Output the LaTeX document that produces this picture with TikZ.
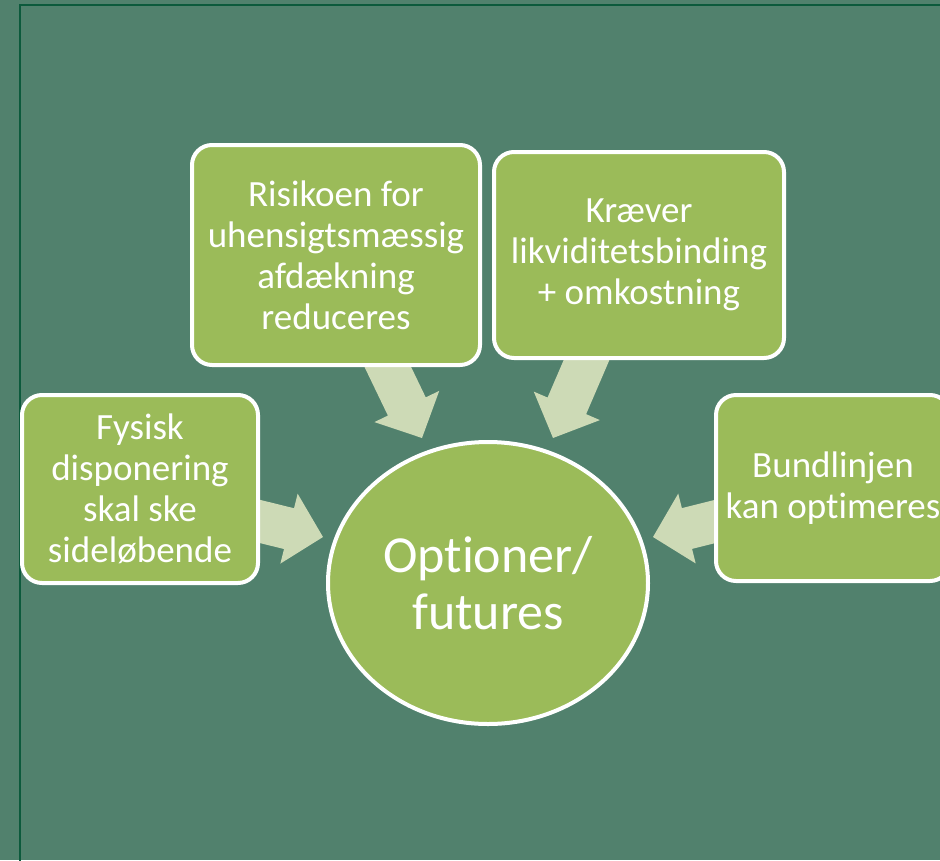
\documentclass[tikz,border=0pt]{standalone}
\usepackage{fontspec}
\setmainfont[Ligatures={NoCommon}, RawFeature={-liga;-clig;-calt}]{Carlito}
\usepackage{tikz}
\usetikzlibrary{shapes.geometric, calc}
\definecolor{bg}{RGB}{81,129,109}
\definecolor{frameline}{RGB}{12,90,60}
\definecolor{leaf}{RGB}{155,187,89}
\definecolor{pale}{RGB}{205,218,182}
\tikzstyle{box} = [rectangle, rounded corners=20pt, draw=white, line width=4pt, fill=leaf, text=white, align=center, font=\fontsize{37}{41}\selectfont, inner sep=0pt]
\tikzstyle{hub} = [ellipse, draw=white, line width=4pt, fill=leaf, text=white, align=center, font=\fontsize{52}{57}\selectfont, minimum width=320pt, minimum height=282pt, inner sep=0pt]
\tikzstyle{blockarrow} = [fill=pale]
% fat arrow from tail #1 to tip #2
\newcommand{\fatarrow}[2]{%
  \coordinate (hb) at ($(#2)!35pt!(#1)$);
  \fill[blockarrow] ($(#1)!21pt!90:(#2)$) -- ($(hb)!21pt!90:(#2)$) -- ($(hb)!36pt!90:(#2)$) -- (#2)
    -- ($(hb)!36pt!-90:(#2)$) -- ($(hb)!21pt!-90:(#2)$) -- ($(#1)!21pt!-90:(#2)$) -- cycle;
}

\begin{document}
\begin{tikzpicture}[x=1pt, y=-1pt]
    \clip (0,0) rectangle (940,860);
    \fill[bg] (0,0) rectangle (940,860);
    \draw[frameline, line width=2pt] (20,870) -- (20,5) -- (950,5);

    \coordinate (t1) at (383,357); \coordinate (h1) at (422,438);
    \coordinate (t2) at (590,352); \coordinate (h2) at (553,438);
    \coordinate (t3) at (250,519); \coordinate (h3) at (323,537);
    \coordinate (t4) at (725,519); \coordinate (h4) at (653,537);
    \fatarrow{t1}{h1}
    \fatarrow{t2}{h2}
    \fatarrow{t3}{h3}
    \fatarrow{t4}{h4}

    \node[box, minimum width=288pt, minimum height=220pt] (risiko) at (336,255) {Risikoen for\\uhensigtsmæssig\\afdækning\\reduceres};
    \node[box, minimum width=290pt, minimum height=206pt] (kraever) at (639,255) {Kræver\\likviditetsbinding\\+ omkostning};
    \node[box, minimum width=236pt, minimum height=188pt] (fysisk) at (140,489) {Fysisk\\disponering\\skal ske\\sideløbende};
    \node[box, minimum width=234pt, minimum height=186pt] (bund) at (833,488) {Bundlinjen\\kan optimeres};
    \node[hub] (option) at (488,583) {Optioner/\\futures};
\end{tikzpicture}
\end{document}
